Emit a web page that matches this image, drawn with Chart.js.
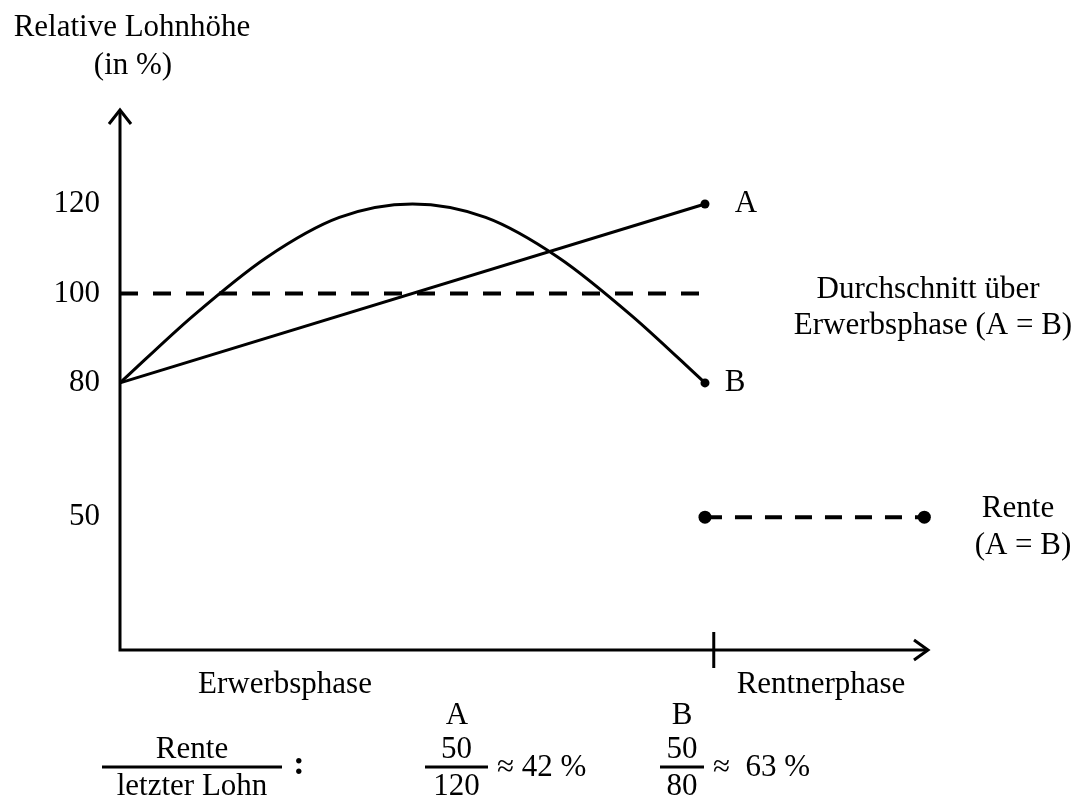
<!DOCTYPE html>
<html>
<head>
<meta charset="utf-8">
<script src="https://cdn.jsdelivr.net/npm/chart.js@4/dist/chart.umd.min.js"></script>
<style>
  html, body { margin: 0; background: #fff; }
</style>
</head>
<body>
<canvas id="grafico" width="1077" height="798"></canvas>
<script>
// Jahre der Erwerbsphase und Verlauf B
const erwerbsJahre = [0, 5, 10, 15, 20, 25, 30, 35, 40];
const lohnB = [80, 95, 108, 117, 120, 117, 108, 95, 80];
// Verlauf A: gerade Linie
const lohnAJahre = [0, 40];
const lohnA = [80, 120];
// Durchschnitt über Erwerbsphase
const schnittJahre = [0, 40];
const schnitt = [100, 100];
// Rente
const renteJahre = [40, 55];
const rente = [50, 50];
const yTicks = [50, 80, 100, 120];
const phasenGrenze = 40.6;

const FAMILIE = '"Liberation Serif", "Times New Roman", serif';
const FONT = '31px ' + FAMILIE;

function punkte(xs, ys) {
  return xs.map((x, i) => ({ x: x, y: ys[i] }));
}

const beschriftung = {
  id: 'beschriftung',
  afterDraw(chart) {
    const ctx = chart.ctx;
    const a = chart.chartArea;
    const xs = chart.scales.x;
    const ys = chart.scales.y;
    ctx.save();
    ctx.strokeStyle = '#000';
    ctx.fillStyle = '#000';
    ctx.lineWidth = 3;
    ctx.lineCap = 'butt';

    // Achsen
    ctx.beginPath();
    ctx.moveTo(a.left, a.top);
    ctx.lineTo(a.left, a.bottom);
    ctx.lineTo(a.right, a.bottom);
    ctx.stroke();
    // Pfeilspitzen
    ctx.beginPath();
    ctx.moveTo(a.left - 11, a.top + 14);
    ctx.lineTo(a.left, a.top);
    ctx.lineTo(a.left + 11, a.top + 14);
    ctx.moveTo(a.right - 14, a.bottom - 10);
    ctx.lineTo(a.right, a.bottom);
    ctx.lineTo(a.right - 14, a.bottom + 10);
    ctx.stroke();
    // Phasengrenze
    const gx = xs.getPixelForValue(phasenGrenze);
    ctx.beginPath();
    ctx.moveTo(gx, a.bottom - 18);
    ctx.lineTo(gx, a.bottom + 18);
    ctx.stroke();

    ctx.font = FONT;
    ctx.textBaseline = 'middle';
    function text(t, x, y, align) {
      ctx.textAlign = align || 'center';
      ctx.fillText(t, x, y);
    }

    // y-Achsenbeschriftung aus der Skala
    ys.ticks.forEach(t => {
      text(String(t.value), a.left - 20, ys.getPixelForValue(t.value), 'right');
    });

    text('Relative Lohnhöhe', 132, 28);
    text('(in %)', 133, 66);

    const endX = xs.getPixelForValue(lohnAJahre[1]);
    text('A', endX + 41, ys.getPixelForValue(lohnA[1]));
    text('B', endX + 30, ys.getPixelForValue(lohnB[lohnB.length - 1]));

    text('Durchschnitt über', 928, 290);
    text('Erwerbsphase (A = B)', 933, 326);
    text('Rente', 1018, 509);
    text('(A = B)', 1023, 546);

    text('Erwerbsphase', 285, 685);
    text('Rentnerphase', 821, 685);

    text('A', 457, 716);
    text('B', 682, 716);

    // Brüche
    function bruch(oben, unten, x1, x2, y) {
      const m = (x1 + x2) / 2;
      text(oben, m, y - 17);
      text(unten, m, y + 20);
      ctx.lineWidth = 3;
      ctx.beginPath();
      ctx.moveTo(x1, y);
      ctx.lineTo(x2, y);
      ctx.stroke();
    }
    bruch('Rente', 'letzter Lohn', 102, 282, 767);
    ctx.font = 'bold 34px ' + FAMILIE;
    text(':', 299, 765);
    ctx.font = FONT;
    bruch('50', '120', 425, 488, 767);
    text('≈ 42 %', 497, 768, 'left');
    bruch('50', '80', 660, 704, 767);
    text('≈  63 %', 713, 768, 'left');
    ctx.restore();
  }
};

const ctx = document.getElementById('grafico').getContext('2d');
const endPunkt = n => (c => c.dataIndex === n - 1 ? 4.5 : 0);

new Chart(ctx, {
  type: 'line',
  data: {
    datasets: [
      {
        data: punkte(schnittJahre, schnitt),
        borderColor: '#000',
        borderWidth: 4,
        borderDash: [18, 15],
        pointRadius: 0
      },
      {
        data: punkte(lohnAJahre, lohnA),
        borderColor: '#000',
        borderWidth: 3,
        pointRadius: endPunkt(lohnA.length),
        pointBackgroundColor: '#000',
        pointBorderWidth: 0
      },
      {
        data: punkte(erwerbsJahre, lohnB),
        borderColor: '#000',
        borderWidth: 3,
        cubicInterpolationMode: 'monotone',
        pointRadius: endPunkt(lohnB.length),
        pointBackgroundColor: '#000',
        pointBorderWidth: 0
      },
      {
        data: punkte(renteJahre, rente),
        borderColor: '#000',
        borderWidth: 4,
        borderDash: [17, 13],
        pointRadius: 6.5,
        pointBackgroundColor: '#000',
        pointBorderWidth: 0
      }
    ]
  },
  options: {
    responsive: false,
    animation: false,
    events: [],
    clip: false,
    layout: { padding: { top: 110, right: 149, left: 120, bottom: 148 } },
    plugins: { legend: { display: false }, tooltip: { enabled: false } },
    scales: {
      x: {
        type: 'linear',
        min: 0,
        max: 55.25,
        display: false
      },
      y: {
        min: 20.3,
        max: 141,
        display: false,
        afterBuildTicks: s => { s.ticks = yTicks.map(v => ({ value: v })); }
      }
    }
  },
  plugins: [beschriftung]
});
</script>
</body>
</html>
